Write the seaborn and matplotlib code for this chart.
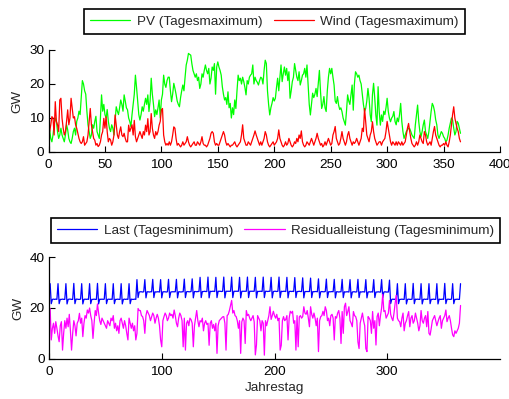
import numpy as np
import pandas as pd
import matplotlib
matplotlib.use("Agg")
import matplotlib.pyplot as plt
import seaborn as sns

# Jahrestage 1..365
days = np.arange(1, 366)

# PV-Einspeisung, Tagesmaximum [GW]
pv_max = [
    6.5, 4, 3, 5, 8, 10, 9, 6, 4, 5,
    7, 5, 4, 3, 5, 8, 6.5, 4, 3, 2.5,
    4, 6, 7, 5, 9, 10, 12, 11, 16, 21,
    20, 18, 17, 12, 8, 6, 4, 5, 8, 7,
    9, 10.5, 6, 5, 4, 10, 16.8, 12, 14, 11,
    10, 12.5, 9, 7, 6, 8, 7, 5, 9, 13.3,
    12, 11, 13, 15.3, 14, 12, 16.8, 15, 13, 12.4,
    10, 9, 7.5, 11, 14, 17, 22.6, 19, 15, 11,
    9.4, 11, 13.3, 12, 14, 15.8, 14, 16.8, 11.9, 15,
    21.7, 17, 14, 10.4, 12.4, 11, 13, 15.3, 10, 15.3,
    17, 22.6, 20, 19, 21, 22, 22, 18, 14.8, 17,
    20.2, 18.7, 17, 15, 14, 13.3, 16, 18, 19.7, 18,
    22, 25.6, 27, 29, 28.7, 28.5, 26, 24, 23, 22,
    23, 21, 22, 18.7, 20, 23, 22, 24, 25.6, 24,
    23, 24.6, 20, 21.7, 25, 24, 26, 17, 25, 26.5,
    25, 24, 22.6, 19.2, 17, 15.3, 16, 14, 17.7, 13,
    14.3, 10, 13, 11, 15.3, 12.8, 18, 22.6, 21, 21.7,
    20, 22, 20.7, 19, 16.8, 21, 20, 22, 22.6, 23,
    25.6, 20, 22, 21, 20.5, 19.7, 21, 22, 21.7, 20,
    24, 27, 26, 18, 14, 10.9, 13, 14.3, 16, 15,
    15.8, 19, 21.7, 18, 22, 25.6, 20.7, 23, 25, 22.6,
    24.6, 21, 23.6, 15.8, 18, 20.7, 22, 26, 24, 22,
    21, 23.6, 19.7, 21, 22.6, 23, 24.6, 22, 25.6, 20,
    14, 10.9, 14, 17.3, 16, 17, 18.7, 16.3, 20, 24,
    17.7, 12.8, 14, 16.3, 13, 11.9, 18, 22, 24.6, 23,
    24.6, 22, 19.7, 15, 14.3, 16.3, 13.8, 12.5, 13, 11.9,
    10, 9, 7.9, 12, 16.8, 15, 14, 16.8, 19.7, 12.3,
    20, 23.6, 23, 22, 22.6, 21, 20, 17, 14, 11.9,
    12.8, 15, 18.7, 15.8, 11, 8.9, 16.8, 20.2, 16, 10.9,
    7.9, 19.2, 11.9, 7.9, 10.9, 9, 12, 11, 13, 15.8,
    12, 10, 8.9, 10, 10.5, 11.9, 9, 8, 10, 8.9,
    11, 14.3, 9, 6, 4, 5, 6, 6.5, 7, 6.9,
    6, 5, 4.5, 4, 8, 11, 13.8, 9, 6, 4.5,
    6, 8, 9.4, 6, 5, 4, 6, 9, 12, 14.3,
    13.5, 12, 9.5, 8, 5, 4, 5, 6, 5.5, 4.5,
    4, 3, 3.5, 5, 7, 8.5, 10, 9.4, 7, 5,
    6, 9, 8.5, 7, 5.5,
]

# Windeinspeisung, Tagesmaximum [GW]
wind_max = [
    6, 8, 10.4, 10, 5, 14.8, 9, 8, 6, 15.3,
    15.8, 9.9, 7, 5, 6, 9, 12.4, 8, 10, 15.8,
    13, 10, 10.4, 8, 7, 5.5, 4, 3, 2.5, 3,
    4.5, 2, 2.5, 3, 5, 8.9, 12.8, 8, 6, 4,
    3.5, 2, 2.5, 1.6, 2, 3, 5, 6, 9.9, 7,
    10.4, 6, 3, 4, 3.5, 2, 3, 5, 10.9, 8,
    5, 4, 6, 7.4, 5, 4.5, 5.5, 4, 3, 3,
    7.9, 6, 7, 8, 5, 9.3, 4.5, 3, 4, 5,
    6, 5, 4, 6, 5, 7.9, 6, 9.8, 5, 6,
    11.3, 7, 5, 4, 6, 5, 6, 7.9, 9, 12.4,
    12.8, 5, 3, 2, 2.5, 2, 3, 2, 3, 5,
    7.4, 7, 4, 2, 2.5, 2, 1.5, 2, 3, 2,
    2.5, 3, 4.5, 3, 2, 1.5, 2, 2.5, 3, 2,
    2, 3, 2.5, 2, 3, 4.5, 2.5, 2, 2, 1.5,
    2, 3, 4, 5.5, 6, 5.5, 3, 2, 2.5, 2,
    2, 3, 4, 5, 6, 5, 3, 2, 2.5, 2,
    1.5, 2, 2, 2.5, 3, 2, 1.5, 2, 2.5, 3,
    5, 8, 4, 3, 2, 2, 3, 2.5, 2, 3,
    4, 5, 6.2, 5, 4, 3, 2, 3, 2, 3,
    4, 6, 5, 3, 2, 1.5, 2, 2.5, 3, 2,
    2.5, 3, 4, 6.5, 4, 3, 2, 1.5, 2, 3,
    2, 2.5, 4, 3, 2, 1.5, 2, 3, 2.5, 4,
    3, 5, 4, 6.2, 3, 2, 1.5, 2, 3, 2.5,
    2, 3, 4, 3, 2, 3, 4, 5.5, 4, 3,
    2, 2.5, 1.5, 2, 3, 2, 3, 4, 3, 2,
    2.5, 5, 6, 7.5, 4, 3, 2, 2.5, 4, 6,
    4, 3, 2, 3, 5, 6, 4, 3, 2, 3,
    2.5, 3, 4, 3, 2, 3, 4, 7, 6, 12.8,
    9, 5, 4, 3, 5, 6, 8.9, 6, 4, 3,
    2, 2.5, 3, 3, 2, 3, 3.5, 4, 6, 9,
    7, 5, 3, 2, 3, 2.5, 2, 3, 2, 3,
    2.5, 2, 3, 2, 2.5, 3, 5, 7, 8.4, 6,
    4, 2.5, 2, 1.5, 2, 3, 2, 3, 5, 4,
    3, 2.5, 6, 5, 3, 2, 2.5, 3, 2, 4,
    6, 7.5, 5, 4, 3, 2, 1.5, 2, 2, 2.5,
    2, 3, 2, 1.5, 3, 5, 8, 11, 13.3, 10,
    8.4, 7, 6, 4, 3,
]

# Last, Tagesminimum [GW] (eine Zeile je Woche)
last_min = [
    29.6, 21.7, 23.4, 23.5, 23.4, 23.5, 23.4,
    29.6, 21.7, 23.4, 23.4, 23.5, 23.4, 23.4,
    29.6, 21.6, 23.4, 23.5, 23.5, 23.4, 23.4,
    29.7, 21.7, 23.5, 23.5, 23.4, 23.4, 23.5,
    29.6, 21.6, 23.4, 23.5, 23.4, 23.5, 23.4,
    29.6, 21.7, 23.4, 23.4, 23.5, 23.4, 23.4,
    29.7, 21.6, 23.5, 23.4, 23.5, 23.4, 23.5,
    29.6, 21.7, 23.4, 23.5, 23.4, 23.5, 23.4,
    29.6, 21.7, 23.4, 23.4, 23.5, 23.4, 23.4,
    29.6, 21.6, 23.4, 23.5, 23.4, 23.5, 23.4,
    29.6, 21.7, 23.5, 23.4, 23.4, 23.5, 23.4,
    31.2, 24.1, 26.3, 26.4, 26.4, 26.3, 26.4,
    31.2, 24.0, 26.4, 26.4, 26.3, 26.4, 26.4,
    31.3, 24.1, 26.4, 26.3, 26.4, 26.4, 26.3,
    31.2, 24.0, 26.4, 26.4, 26.4, 26.3, 26.4,
    31.3, 24.1, 26.3, 26.4, 26.4, 26.4, 26.4,
    31.3, 24.0, 26.4, 26.4, 26.3, 26.4, 26.4,
    31.4, 24.1, 26.4, 26.5, 26.4, 26.4, 26.5,
    31.5, 24.0, 26.5, 26.5, 26.4, 26.5, 26.5,
    32.1, 24.1, 26.5, 26.5, 26.6, 26.5, 26.5,
    32.2, 24.0, 26.6, 26.5, 26.6, 26.6, 26.5,
    32.1, 24.1, 26.6, 26.6, 26.6, 26.5, 26.6,
    32.2, 24.0, 26.6, 26.6, 26.6, 26.6, 26.6,
    32.2, 24.1, 26.6, 26.6, 26.6, 26.6, 26.6,
    32.1, 24.0, 26.6, 26.6, 26.6, 26.6, 26.6,
    32.2, 24.1, 26.6, 26.6, 26.6, 26.6, 26.6,
    32.1, 24.0, 26.6, 26.5, 26.6, 26.6, 26.5,
    32.2, 24.1, 26.6, 26.6, 26.5, 26.6, 26.6,
    32.1, 24.0, 26.5, 26.6, 26.6, 26.5, 26.6,
    32.2, 24.1, 26.6, 26.5, 26.6, 26.6, 26.5,
    32.1, 24.0, 26.5, 26.6, 26.5, 26.6, 26.5,
    32.0, 24.1, 26.5, 26.5, 26.6, 26.5, 26.5,
    31.9, 24.0, 26.5, 26.5, 26.5, 26.5, 26.5,
    31.8, 24.1, 26.5, 26.4, 26.5, 26.5, 26.4,
    31.5, 24.0, 26.4, 26.5, 26.4, 26.4, 26.5,
    31.4, 24.1, 26.4, 26.4, 26.4, 26.5, 26.4,
    31.3, 24.0, 26.4, 26.4, 26.3, 26.4, 26.4,
    31.3, 24.1, 26.4, 26.3, 26.4, 26.4, 26.3,
    31.2, 24.0, 26.3, 26.4, 26.4, 26.3, 26.4,
    31.3, 24.1, 26.4, 26.3, 26.4, 26.4, 26.3,
    31.2, 24.0, 26.3, 26.4, 26.3, 26.4, 26.3,
    31.2, 24.1, 26.3, 26.3, 26.4, 26.3, 26.3,
    31.2, 24.0, 26.3, 26.4, 26.3, 26.3, 26.3,
    31.0, 21.7, 23.4, 23.5, 23.4, 23.5, 23.4,
    29.6, 21.7, 23.4, 23.4, 23.5, 23.4, 23.4,
    29.6, 21.6, 23.4, 23.5, 23.4, 23.4, 23.5,
    29.7, 21.7, 23.5, 23.4, 23.5, 23.4, 23.4,
    29.6, 21.6, 23.4, 23.5, 23.4, 23.5, 23.4,
    29.6, 21.7, 23.4, 23.4, 23.5, 23.4, 23.4,
    29.6, 21.6, 23.5, 23.4, 23.4, 23.5, 23.4,
    29.7, 21.7, 23.4, 23.5, 23.4, 23.4, 23.5,
    29.6, 21.7, 23.4, 23.4, 23.5, 23.4, 23.4,
    29.6,
]

# Residualleistung, Tagesminimum [GW]
residual_min = [
    19.8, 7.4, 12, 14, 10, 14.6, 12, 9, 6.7, 13,
    14.6, 3.4, 10, 15, 12, 16, 12.6, 17.5, 11, 3.4,
    10, 15, 13, 9, 14, 15, 17.9, 14, 16, 8.7,
    14, 17, 16, 19.2, 18, 20, 17, 15, 8, 14,
    19, 17, 21.6, 18, 15, 13.5, 16, 15, 14, 13,
    12, 15, 14, 13, 16, 15, 17, 12, 14, 11,
    13, 10, 15, 16, 14, 12, 15, 13, 10, 7.4,
    16, 14, 12, 14, 11, 13, 7.4, 10, 19.8, 19,
    19, 17, 16.6, 15, 10, 17, 19, 18, 17, 15,
    16.5, 18, 17, 14, 16, 17.5, 16, 13, 7.4, 4.7,
    15, 16.6, 18, 17, 15, 16, 18, 17, 17.5, 16,
    19.2, 17, 14, 12.6, 16, 18, 17, 15, 4.7, 16,
    3.4, 14, 15, 13, 16, 15.4, 14, 4.7, 13, 16,
    19, 15, 12.6, 15, 14.5, 16, 11, 14, 15, 13.5,
    14, 5.3, 14, 15, 12, 13.5, 11, 14, 2.1, 13,
    15, 15.5, 16, 16.5, 16.6, 14, 3.4, 17, 17.5, 19,
    21, 23, 18, 19, 17, 16.6, 15, 12, 15, 2.1,
    14.5, 16, 15, 6, 19, 17, 17.5, 16, 15, 16,
    17, 14.5, 1.5, 5.4, 17, 16, 15, 11, 15, 14,
    1.4, 15, 13, 15, 17, 20.5, 15.5, 17, 18.7, 17,
    16, 17.5, 15, 16, 3.4, 5.3, 15, 16.6, 15, 15.5,
    17, 7.4, 16, 18.7, 18, 18.7, 14, 15, 3.4, 17,
    4.7, 16.5, 17, 16, 16.6, 20.5, 18, 17.5, 19, 16,
    12.6, 20.5, 17.5, 16, 18, 16, 13, 16, 2.8, 15,
    16.6, 17, 18.7, 17, 20.5, 19, 15, 16, 13, 17,
    17.5, 16, 7.4, 16.6, 16, 18, 19, 16, 6, 18.6,
    10, 20.5, 21.9, 17, 18.6, 20.5, 15, 14, 12.6, 18.6,
    17, 16.6, 15, 6.6, 4, 14, 16, 18, 15, 13,
    4, 2.8, 16.6, 16, 15, 10, 18.6, 12, 15, 5.4,
    16.6, 18, 13, 17, 20, 25.4, 18.6, 19, 16, 17,
    18, 23, 17.5, 16, 15, 18, 21.9, 25, 16, 15,
    14.6, 12.6, 16, 18, 11, 14, 15, 17, 18.6, 12.6,
    16, 17, 14, 15, 18, 16, 14, 11, 13, 19,
    15, 14, 16, 17, 12.6, 18.6, 10, 9.3, 12, 15,
    16, 17, 15, 13, 14.6, 16, 17, 12, 15, 16,
    17, 19.2, 14.6, 16, 17, 15, 12, 9.4, 8.7, 11,
    10, 11, 12, 14, 21,
]

top_df = pd.DataFrame({"Jahrestag": days, "PV": pv_max, "Wind": wind_max})
bottom_df = pd.DataFrame({"Jahrestag": days, "Last": last_min,
                          "Residual": residual_min})

sns.set_theme(style="white")
plt.rcParams["font.family"] = ["Liberation Sans", "DejaVu Sans"]
FS = 9.7

W, H = 509, 399
fig = plt.figure(figsize=(W / 100, H / 100), dpi=100)
fig.patch.set_facecolor("white")

ax1 = fig.add_axes([48.5 / W, 1 - 152 / H, 451.5 / W, 102 / H])
ax2 = fig.add_axes([49 / W, 1 - 358.7 / H, 451 / W, 101.4 / H])

lw = 0.9
sns.lineplot(data=top_df, x="Jahrestag", y="PV", color="#00ff00", lw=lw,
             label="PV (Tagesmaximum)", ax=ax1)
sns.lineplot(data=top_df, x="Jahrestag", y="Wind", color="#ff0000", lw=lw,
             label="Wind (Tagesmaximum)", ax=ax1)
sns.lineplot(data=bottom_df, x="Jahrestag", y="Last", color="#0000ff", lw=lw,
             label="Last (Tagesminimum)", ax=ax2)
sns.lineplot(data=bottom_df, x="Jahrestag", y="Residual", color="#ff00ff",
             lw=lw, label="Residualleistung (Tagesminimum)", ax=ax2)

ax1.set_xlim(0, 400)
ax1.set_ylim(0, 30)
ax1.set_xticks(range(0, 401, 50))
ax1.set_yticks([0, 10, 20, 30])
ax1.set_xlabel("")
ax1.set_ylabel("GW", fontsize=FS, labelpad=4)

ax2.set_xlim(0, 400)
ax2.set_ylim(0, 40)
ax2.set_xticks([0, 100, 200, 300])
ax2.set_yticks([0, 20, 40])
ax2.set_xlabel("Jahrestag", fontsize=FS, labelpad=3)
ax2.set_ylabel("GW", fontsize=FS, labelpad=4)

for ax in (ax1, ax2):
    ax.set_facecolor("white")
    for side in ("top", "right"):
        ax.spines[side].set_visible(False)
    for side in ("left", "bottom"):
        ax.spines[side].set_color("black")
        ax.spines[side].set_linewidth(0.9)
    ax.tick_params(axis="both", direction="in", length=4, width=0.8,
                   colors="black", labelsize=FS, bottom=True, left=True,
                   top=False, right=False)
    ax.tick_params(axis="x", pad=5)
    ax.tick_params(axis="y", pad=3)
    ax.grid(False)


def boxed_legend(ax, box):
    handles, labels = ax.get_legend_handles_labels()
    leg = ax.legend(handles, labels, ncol=2, mode="expand", loc="center",
                    bbox_to_anchor=box, bbox_transform=fig.transFigure,
                    borderaxespad=0, frameon=True, fancybox=False,
                    framealpha=1, edgecolor="black", fontsize=FS,
                    handlelength=3.0, handletextpad=0.45, columnspacing=0.6,
                    borderpad=0.45)
    leg.get_frame().set_linewidth(1.2)
    return leg


boxed_legend(ax1, (84 / W, 1 - 35 / H, 381 / W, 27 / H))
boxed_legend(ax2, (51 / W, 1 - 243 / H, 449 / W, 25 / H))

fig.savefig("out.png", dpi=100, facecolor="white")
